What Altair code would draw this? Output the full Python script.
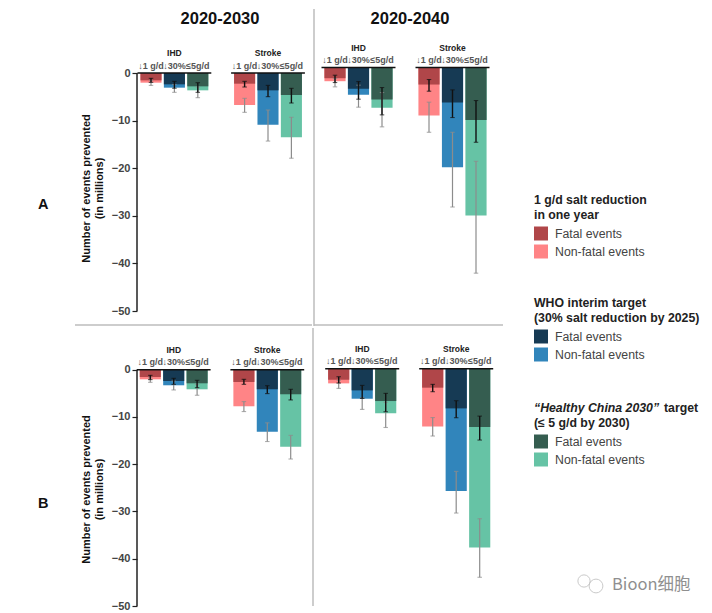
import altair as alt
import pandas as pd

FONT = "Liberation Sans"
SLOTS = ["I1", "I2", "I3", "gap", "S1", "S2", "S3"]
BARS = ["I1", "I2", "I3", "S1", "S2", "S3"]
SCENARIO = ["one", "who", "hc", "one", "who", "hc"]
SUBLABELS = ["↓1 g/d", "↓30%", "≤5g/d", "↓1 g/d", "↓30%", "≤5g/d"]
GROUP_LABELS = ["IHD", "Stroke"]
YTICKS = [0, -10, -20, -30, -40, -50]

# 2020-2030, row A
a1_fatal = [-1.54, -2.38, -2.8, -2.24, -3.64, -4.62]
a1_total = [-2.03, -3.08, -3.64, -6.72, -10.85, -13.5]
a1_fatal_lo = [-1.96, -3.2, -4.06, -2.94, -4.97, -6.3]
a1_fatal_hi = [-1.12, -1.75, -2.03, -1.75, -2.6, -3.22]
a1_total_lo = [-2.6, -4.06, -5.18, -8.26, -14.3, -17.9]
a1_total_hi = [-1.54, -2.4, -2.94, -5.32, -7.77, -9.3]
# 2020-2040, row A
a2_fatal = [-2.24, -4.48, -6.72, -3.57, -7.35, -11.0]
a2_total = [-2.87, -5.74, -8.47, -10.08, -20.94, -31.1]
a2_fatal_lo = [-3.15, -6.65, -9.94, -4.97, -10.5, -15.7]
a2_fatal_hi = [-1.61, -2.94, -4.2, -2.52, -4.69, -6.93]
a2_total_lo = [-4.06, -8.33, -12.46, -13.6, -29.3, -43.2]
a2_total_hi = [-2.3, -3.7, -5.25, -7.28, -13.6, -19.7]
# 2020-2030, row B
b1_fatal = [-1.55, -2.39, -2.88, -2.6, -4.15, -5.2]
b1_total = [-2.04, -3.3, -4.15, -7.74, -13.15, -16.3]
b1_fatal_lo = [-2.1, -3.1, -3.8, -3.1, -5.06, -6.4]
b1_fatal_hi = [-1.2, -1.83, -2.25, -2.04, -3.38, -4.15]
b1_total_lo = [-2.67, -4.29, -5.41, -8.86, -15.2, -18.9]
b1_total_hi = [-1.7, -2.4, -3.1, -6.75, -11.25, -13.9]
# 2020-2040, row B
b2_fatal = [-2.32, -4.57, -6.82, -4.0, -8.37, -12.3]
b2_total = [-3.09, -6.33, -9.42, -12.17, -25.8, -37.7]
b2_fatal_lo = [-3.02, -6.26, -9.07, -4.85, -10.34, -15.05]
b2_fatal_hi = [-1.69, -3.52, -5.2, -3.3, -6.75, -10.0]
b2_total_lo = [-4.15, -8.58, -12.4, -14.2, -30.45, -44.0]
b2_total_hi = [-2.46, -6.1, -7.1, -10.3, -21.66, -31.65]

COLOR_DOMAIN = ["one-f", "one-n", "who-f", "who-n", "hc-f", "hc-n"]
COLOR_RANGE = ["#B04649", "#FF8486", "#163A54", "#3185BB", "#355D50", "#66C3A5"]
color_scale = alt.Scale(domain=COLOR_DOMAIN, range=COLOR_RANGE)
GRAY = "#8c8c8c"
SEP = "#bdbdbd"


def text_layer(s, x, y, **kw):
    base = dict(font=FONT, align="left", baseline="middle")
    base.update(kw)
    return alt.Chart(alt.Data(values=[{"t": s}])).mark_text(**base).encode(
        text="t:N", x=alt.value(x), y=alt.value(y))


def panel(fatal, total, f_lo, f_hi, t_lo, t_hi, width, height, ydomain, step, first_center_off,
          y_axis=False, heading=None, heading_x=0, extra=()):
    df = pd.DataFrame({
        "slot": BARS, "scen": SCENARIO, "sub": SUBLABELS,
        "fatal": fatal, "total": total,
        "f_lo": f_lo, "f_hi": f_hi, "t_lo": t_lo, "t_hi": t_hi,
    })
    df["kf"] = df["scen"] + "-f"
    df["kn"] = df["scen"] + "-n"
    pi = 0.1
    free = width - step * (len(SLOTS) - pi)
    po = (width / step - (len(SLOTS) - pi)) / 2
    left_edge = first_center_off - step * (1 - pi) / 2
    x_s = alt.Scale(domain=SLOTS, paddingInner=pi, paddingOuter=po, align=left_edge / free)
    y_s = alt.Scale(domain=ydomain, nice=False, zero=False)
    X = alt.X("slot:N", scale=x_s, axis=None)
    base = alt.Chart(df)

    if y_axis:
        yaxis = alt.Axis(values=YTICKS, grid=False, domain=False, tickColor="#222", tickWidth=1.2,
                         tickSize=5, labelFont=FONT, labelFontWeight="bold", labelFontSize=11,
                         labelColor="#444", labelPadding=2,
                         title=["Number of events prevented", "(in millions)"], titleFont=FONT,
                         titleFontWeight="bold", titleFontSize=11, titleColor="#111",
                         titleX=-46, titleY=y_axis, titleLineHeight=13, titleAngle=-90)
    else:
        yaxis = None

    layers = []
    layers.append(base.mark_bar().encode(
        x=X, y=alt.Y("total:Q", scale=y_s, axis=yaxis), y2=alt.datum(0),
        color=alt.Color("kn:N", scale=color_scale, legend=None)))
    layers.append(base.mark_bar().encode(
        x=X, y=alt.Y("fatal:Q"), y2=alt.datum(0),
        color=alt.Color("kf:N", scale=color_scale, legend=None)))
    for lo, hi, col, sw in (("t_lo", "t_hi", GRAY, 1.2), ("f_lo", "f_hi", "#111", 1.4)):
        layers.append(base.mark_rule(color=col, strokeWidth=sw).encode(
            x=X, y=alt.Y(f"{lo}:Q"), y2=f"{hi}:Q"))
        for f in (lo, hi):
            layers.append(base.mark_tick(color=col, size=4.5, thickness=1.1).encode(
                x=X, y=alt.Y(f"{f}:Q")))
    # Zero lines over each cause group
    zero = pd.DataFrame({"a": ["I1", "S1"], "b": ["I3", "S3"], "g": GROUP_LABELS, "m": ["I2", "S2"]})
    zb = alt.Chart(zero)
    layers.append(zb.mark_rule(color="#111", strokeWidth=1.4, xOffset=-13.5, x2Offset=13.5).encode(
        x=alt.X("a:N", scale=x_s, axis=None), x2="b:N", y=alt.datum(0)))
    layers.append(zb.mark_text(font=FONT, fontWeight="bold", fontSize=8.5, color="#222", dy=-20).encode(
        x=alt.X("m:N", scale=x_s, axis=None), y=alt.datum(0), text="g:N"))
    layers.append(base.mark_text(font=FONT, fontSize=9, fontWeight="bold", color="#555", dy=-7.5).encode(
        x=X, y=alt.datum(0), text="sub:N"))
    if y_axis:
        layers.append(alt.Chart(pd.DataFrame({"a": [0], "b": [-50]})).mark_rule(
            color="#222", strokeWidth=1.5).encode(
            x=alt.value(0), y=alt.Y("a:Q"), y2="b:Q"))
    if heading:
        layers.append(text_layer(heading, heading_x, 9.5, fontSize=16.5,
                                 fontWeight="bold", align="center", color="#111"))
    layers.extend(extra)
    return alt.layer(*layers).properties(width=width, height=height)


def vrule(h):
    return alt.Chart(alt.Data(values=[{"k": 1}])).mark_rule(color=SEP, strokeWidth=1.5).encode(
        x=alt.value(0), y=alt.value(0), y2=alt.value(h))


def hrule(x1, x2, y):
    return alt.Chart(alt.Data(values=[{"k": 1}])).mark_rule(color=SEP, strokeWidth=1.5).encode(
        x=alt.value(x1), x2=alt.value(x2), y=alt.value(y))


WL, WR = 175, 189
HA, HB = 317, 278

pa1 = panel(a1_fatal, a1_total, a1_fatal_lo, a1_fatal_hi, a1_total_lo, a1_total_hi, WL, HA,
            [-53.15, 13.45], 23.4, 14, y_axis=179, heading="2020-2030", heading_x=83,
            extra=[hrule(-62, WL, HA - 1),
                   text_layer("A", -99, 195.5, fontSize=14.5, fontWeight="bold", color="#111")])
pa2 = panel(a2_fatal, a2_total, a2_fatal_lo, a2_fatal_hi, a2_total_lo, a2_total_hi, WR, HA,
            [-54.3, 12.3], 23.5, 21, heading="2020-2040", heading_x=96,
            extra=[vrule(HA), hrule(0, WR, HA - 1)])
pb1 = panel(b1_fatal, b1_total, b1_fatal_lo, b1_fatal_hi, b1_total_lo, b1_total_hi, WL, HB,
            [-50.0, 8.82], 23.4, 13.3, y_axis=161,
            extra=[text_layer("B", -99, 176, fontSize=14.5, fontWeight="bold", color="#111")])
pb2 = panel(b2_fatal, b2_total, b2_fatal_lo, b2_fatal_hi, b2_total_lo, b2_total_hi, WR, HB,
            [-50.06, 8.59], 23.5, 25.7, extra=[vrule(HB)])

# Legend panel
LX = 30
LEG_W, LEG_H = 200, 597
GROUPS = [
    (["1 g/d salt reduction", "in one year"], ["one-f", "one-n"], 191),
    (["WHO interim target", "(30% salt reduction by 2025)"], ["who-f", "who-n"], 294),
    ([None, "(≤ 5 g/d by 2030)"], ["hc-f", "hc-n"], 399),
]
ROW_LABELS = ["Fatal events", "Non-fatal events"]
legend_layers = []
for title, keys, top in GROUPS:
    for i, line in enumerate(title):
        if line is not None:
            legend_layers.append(text_layer(line, LX, top + i * 15, fontSize=12.3,
                                            fontWeight="bold", color="#222"))
    for i, (k, lab) in enumerate(zip(keys, ROW_LABELS)):
        yy = top + 33.5 + i * 18
        legend_layers.append(
            alt.Chart(alt.Data(values=[{"k": k}])).mark_rect().encode(
                x=alt.value(LX), x2=alt.value(LX + 14), y=alt.value(yy - 7), y2=alt.value(yy + 7),
                color=alt.Color("k:N", scale=color_scale, legend=None)))
        legend_layers.append(text_layer(lab, LX + 21, yy, fontSize=12.3, color="#444"))
legend_layers.append(text_layer("“Healthy China 2030”", LX, 399, fontSize=12.3, fontWeight="bold",
                                fontStyle="italic", color="#222"))
legend_layers.append(text_layer("target", LX + 130, 399, fontSize=12.3, fontWeight="bold", color="#222"))
# Watermark
legend_layers.append(text_layer("Bioon细胞", 108, 576, fontSize=16.5, color="#8f8f8f",
                                font="Noto Sans CJK SC"))
for cx, cy, size in ((80, 572, 150), (92, 577, 190)):
    legend_layers.append(alt.Chart(alt.Data(values=[{"k": 1}])).mark_point(
        shape="circle", size=size, color="#b5b5b5", strokeWidth=1, filled=False).encode(
        x=alt.value(cx), y=alt.value(cy)))
legend = alt.layer(*legend_layers).properties(width=LEG_W, height=LEG_H)

left = alt.vconcat(alt.hconcat(pa1, pa2, spacing=0), alt.hconcat(pb1, pb2, spacing=0), spacing=0)
chart = alt.hconcat(left, legend, spacing=0).properties(
    padding={"left": 30, "top": 0, "right": 0, "bottom": 0}
).configure_view(stroke=None).configure_concat(spacing=0)

chart.save("out.html", embed_options={"renderer": "svg", "actions": False})
